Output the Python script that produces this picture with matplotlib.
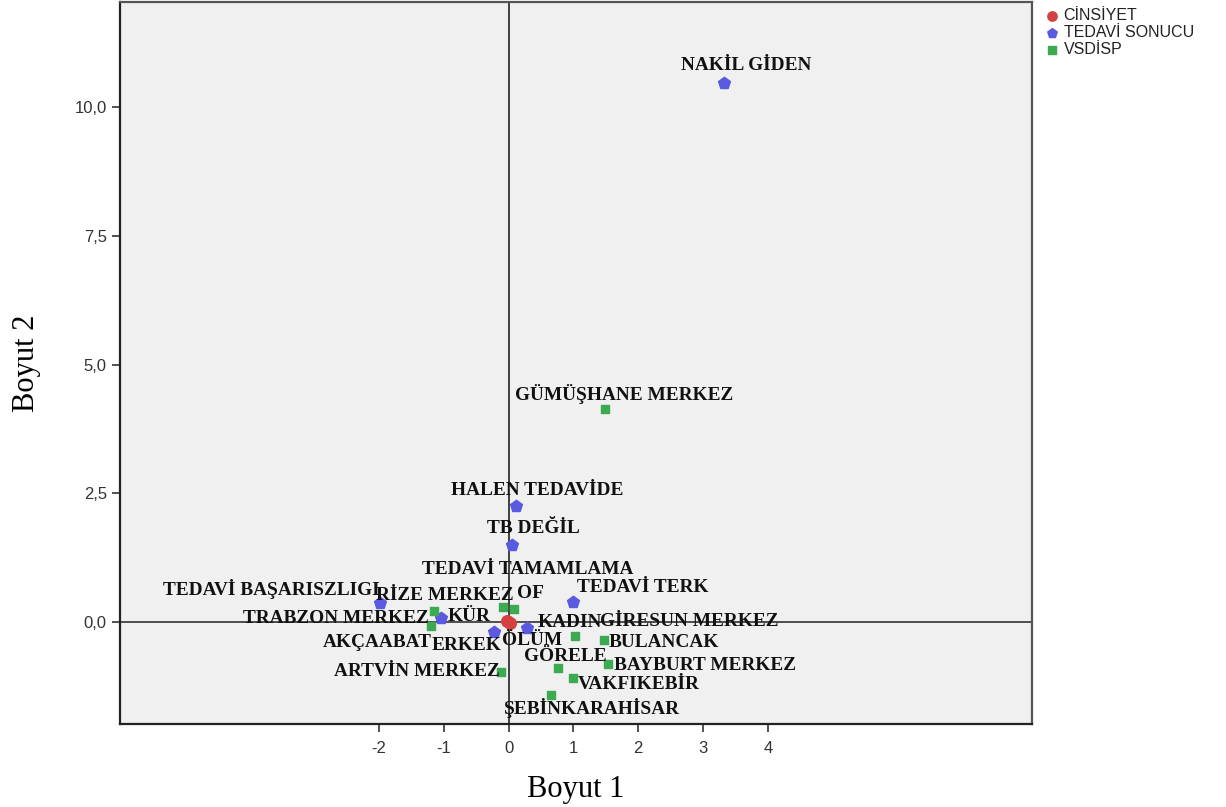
import matplotlib
matplotlib.use('Agg')
import matplotlib.pyplot as plt
from matplotlib.ticker import FuncFormatter

# category points (Boyut 1, Boyut 2) per variable
cins_labels = ['ERKEK', 'KADIN']
cins_x = [-0.02, 0.02]
cins_y = [0.01, -0.01]

tedavi_labels = ['NAKİL GİDEN', 'HALEN TEDAVİDE', 'TB DEĞİL', 'TEDAVİ TERK',
                 'TEDAVİ BAŞARISZLIGI', 'KÜR', 'ÖLÜM', 'TEDAVİ TAMAMLAMA']
tedavi_x = [3.33, 0.12, 0.05, 1.00, -1.98, -1.05, -0.23, 0.29]
tedavi_y = [10.47, 2.25, 1.50, 0.39, 0.37, 0.08, -0.19, -0.12]

vsdisp_labels = ['GÜMÜŞHANE MERKEZ', 'TRABZON MERKEZ', 'AKÇAABAT', 'RİZE MERKEZ',
                 'OF', 'ARTVİN MERKEZ', 'GİRESUN MERKEZ', 'BULANCAK', 'GÖRELE',
                 'BAYBURT MERKEZ', 'VAKFIKEBİR', 'ŞEBİNKARAHİSAR']
vsdisp_x = [1.48, -1.16, -1.20, -0.09, 0.08, -0.12, 1.03, 1.47, 0.76, 1.54, 1.00, 0.66]
vsdisp_y = [4.14, 0.21, -0.08, 0.29, 0.25, -0.97, -0.27, -0.35, -0.89, -0.82, -1.09, -1.42]

xticks = [-2, -1, 0, 1, 2, 3, 4]
yticks = [0, 2.5, 5, 7.5, 10]

# label offsets in pixels (text centre relative to the point), SPSS-like placement
cins_off = [(-41, -24), (60, 0)]
tedavi_off = [(22, 17), (21, 16), (21, 16), (69, 14),
              (-109, 14), (28, 1), (38, -9), (0, 59)]
vsdisp_off = [(20, 15), (-98, -7), (-54, -16), (-58, 12), (17, 16), (-84, 0),
              (114, 14), (60, -2), (7, 11), (97, -1), (65, -6), (41, -13)]

RED = '#d43f3f'
BLUE = '#5a5ae0'
GREEN = '#3caa50'

fig = plt.figure(figsize=(12.26, 8.07), dpi=100)
ax = fig.add_axes([0.0979, 0.1029, 0.7439, 0.8946])
ax.set_facecolor('#f0f0f0')

ax.axhline(0, color='#333333', lw=1.2, zorder=1)
ax.axvline(0, color='#222222', lw=1.2, zorder=1)

ax.scatter(cins_x, cins_y, marker='o', s=70, color=RED, label='CİNSİYET', zorder=4)
ax.scatter(tedavi_x, tedavi_y, marker='p', s=80, color=BLUE, label='TEDAVİ SONUCU', zorder=3)
ax.scatter(vsdisp_x, vsdisp_y, marker='s', s=40, color=GREEN, label='VSDİSP', zorder=3)

label_font = dict(family='Liberation Serif', weight='bold', size=13.9, color='#111111')
for labels, xs, ys, offs in [(cins_labels, cins_x, cins_y, cins_off),
                             (tedavi_labels, tedavi_x, tedavi_y, tedavi_off),
                             (vsdisp_labels, vsdisp_x, vsdisp_y, vsdisp_off)]:
    for lab, x, y, (dx, dy) in zip(labels, xs, ys, offs):
        ax.annotate(lab, (x, y), xytext=(dx, dy), textcoords='offset pixels',
                    ha='center', va='center', zorder=5, **label_font)

ax.set_xlim(-6.0, 8.08)
ax.set_ylim(-1.98, 12.04)
ax.set_xticks(xticks)
ax.set_yticks(yticks)
ax.xaxis.set_major_formatter(FuncFormatter(lambda v, p: '%d' % v))
ax.yaxis.set_major_formatter(FuncFormatter(lambda v, p: ('%.1f' % v).replace('.', ',')))
ax.tick_params(axis='both', labelsize=12, labelcolor='#333333', color='#333333',
               length=6, width=1.2, labelfontfamily='Liberation Sans')
ax.tick_params(axis='x', pad=6)

for side in ['left', 'bottom']:
    ax.spines[side].set_color('#222222')
    ax.spines[side].set_linewidth(1.6)
for side in ['top', 'right']:
    ax.spines[side].set_color('#555555')
    ax.spines[side].set_linewidth(1.6)

ax.set_xlabel('Boyut 1', family='Liberation Serif', size=22, labelpad=14)
ax.set_ylabel('Boyut 2', family='Liberation Serif', size=22, labelpad=24)

ax.legend(loc='upper left', bbox_to_anchor=(1.003, 1.005), frameon=False,
          prop=dict(family='Liberation Sans', size=11.5), handletextpad=0.2,
          labelspacing=0.12, borderaxespad=0.2, markerscale=0.8, handlelength=1.0,
          labelcolor='#222222')

fig.savefig('out.png', dpi=100)
